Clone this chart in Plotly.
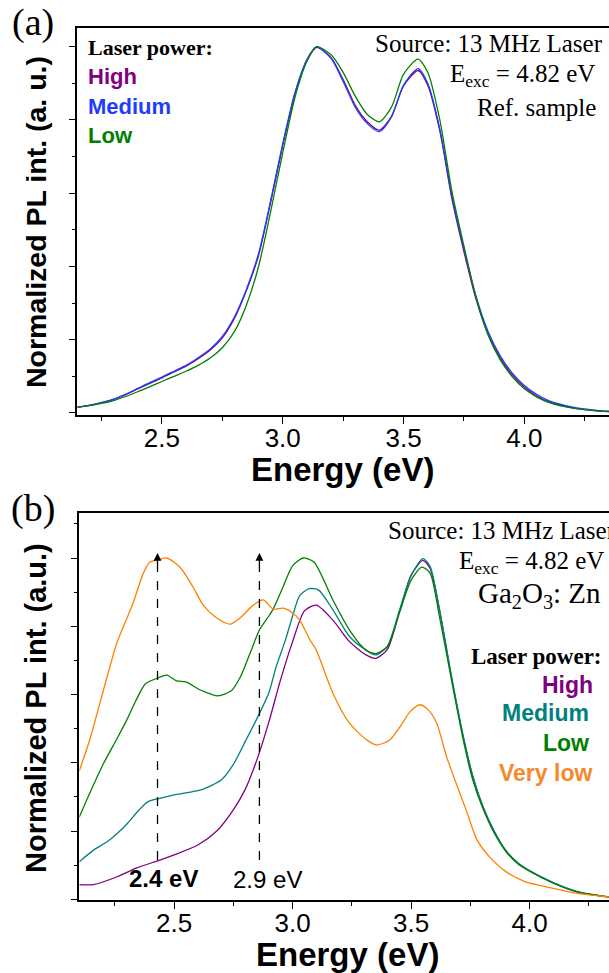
import plotly.graph_objects as go

# ---------------- data: panel (a) reference sample ----------------
energy_a = [2.15, 2.2, 2.25, 2.3, 2.35, 2.4, 2.45, 2.5, 2.55, 2.6, 2.65, 2.7, 2.75, 2.8,
            2.85, 2.9, 2.95, 3.0, 3.05, 3.1, 3.14, 3.2, 3.25, 3.3, 3.35, 3.4, 3.45, 3.5,
            3.56, 3.6, 3.65, 3.7, 3.75, 3.8, 3.85, 3.9, 3.95, 4.0, 4.05, 4.1, 4.2, 4.3, 4.35]
a_high = [0.016, 0.021, 0.028, 0.037, 0.050, 0.066, 0.081, 0.096, 0.112, 0.128, 0.148, 0.172,
          0.205, 0.258, 0.335, 0.43, 0.575, 0.73, 0.87, 0.962, 0.998, 0.97, 0.91, 0.84, 0.795,
          0.772, 0.81, 0.893, 0.935, 0.895, 0.77, 0.585, 0.44, 0.31, 0.215, 0.15, 0.104, 0.07,
          0.047, 0.031, 0.014, 0.006, 0.004]
a_medium = [0.016, 0.021, 0.028, 0.038, 0.051, 0.067, 0.083, 0.098, 0.114, 0.130, 0.151, 0.175,
            0.209, 0.262, 0.338, 0.435, 0.58, 0.735, 0.873, 0.965, 1.0, 0.968, 0.905, 0.835,
            0.79, 0.768, 0.808, 0.895, 0.94, 0.9, 0.775, 0.592, 0.448, 0.318, 0.222, 0.156,
            0.109, 0.075, 0.051, 0.034, 0.016, 0.007, 0.004]
a_low = [0.016, 0.020, 0.026, 0.034, 0.045, 0.058, 0.072, 0.086, 0.100, 0.114, 0.130, 0.150,
         0.178, 0.222, 0.295, 0.40, 0.55, 0.71, 0.86, 0.96, 1.0, 0.978, 0.93, 0.865, 0.815,
         0.795, 0.835, 0.925, 0.966, 0.93, 0.80, 0.605, 0.455, 0.315, 0.212, 0.145, 0.099,
         0.066, 0.044, 0.029, 0.013, 0.006, 0.004]

# ---------------- data: panel (b) Ga2O3:Zn ----------------
energy_b_high = [2.1, 2.16, 2.26, 2.34, 2.44, 2.5, 2.6, 2.68, 2.75, 2.8, 2.85, 2.9, 2.95, 3.0,
                 3.05, 3.1, 3.17, 3.24, 3.31, 3.35, 3.4, 3.45, 3.5, 3.55, 3.58, 3.62, 3.67,
                 3.72, 3.76, 3.8, 3.85, 3.9, 3.95, 4.0, 4.1, 4.2, 4.3, 4.335]
b_high = [0.043, 0.043, 0.066, 0.091, 0.115, 0.13, 0.159, 0.2, 0.262, 0.322, 0.41, 0.52, 0.645,
          0.755, 0.845, 0.862, 0.818, 0.755, 0.716, 0.706, 0.732, 0.84, 0.95, 0.993, 0.97,
          0.848, 0.652, 0.476, 0.36, 0.276, 0.2, 0.142, 0.106, 0.083, 0.048, 0.022, 0.01, 0.007]

energy_b_medium = [2.1, 2.16, 2.22, 2.26, 2.3, 2.35, 2.39, 2.44, 2.5, 2.56, 2.62, 2.7, 2.75, 2.8,
                   2.85, 2.9, 2.93, 2.97, 3.0, 3.03, 3.07, 3.11, 3.17, 3.24, 3.31, 3.35, 3.4,
                   3.45, 3.5, 3.55, 3.58, 3.62, 3.67, 3.72, 3.76, 3.8, 3.85, 3.9, 3.95, 4.0,
                   4.1, 4.2, 4.3, 4.335]
b_medium = [0.11, 0.144, 0.17, 0.193, 0.22, 0.26, 0.286, 0.296, 0.306, 0.313, 0.322, 0.35, 0.395,
            0.462, 0.53, 0.605, 0.68, 0.76, 0.83, 0.89, 0.91, 0.906, 0.848, 0.77, 0.73, 0.716,
            0.742, 0.845, 0.948, 0.998, 0.976, 0.848, 0.655, 0.478, 0.362, 0.278, 0.2, 0.143,
            0.107, 0.084, 0.049, 0.023, 0.01, 0.007]

energy_b_low = [2.1, 2.15, 2.2, 2.26, 2.3, 2.34, 2.38, 2.43, 2.47, 2.51, 2.55, 2.6, 2.64, 2.68,
                2.74, 2.78, 2.82, 2.86, 2.9, 2.92, 2.96, 3.0, 3.045, 3.09, 3.17, 3.24, 3.31,
                3.35, 3.4, 3.45, 3.5, 3.545, 3.58, 3.62, 3.665, 3.72, 3.76, 3.8, 3.85, 3.9,
                3.95, 4.0, 4.1, 4.2, 4.3, 4.335]
b_low = [0.241, 0.32, 0.395, 0.472, 0.525, 0.584, 0.632, 0.648, 0.657, 0.64, 0.637, 0.617, 0.605,
         0.596, 0.61, 0.652, 0.72, 0.789, 0.83, 0.853, 0.916, 0.977, 1.0, 0.988, 0.877, 0.789,
         0.73, 0.72, 0.74, 0.838, 0.935, 0.973, 0.956, 0.827, 0.663, 0.467, 0.35, 0.271, 0.195,
         0.14, 0.104, 0.082, 0.047, 0.022, 0.01, 0.007]

energy_b_verylow = [2.1, 2.146, 2.187, 2.258, 2.293, 2.327, 2.37, 2.398, 2.435, 2.469, 2.525,
                    2.58, 2.623, 2.68, 2.736, 2.778, 2.834, 2.876, 2.918, 2.96, 3.0, 3.03, 3.073,
                    3.1, 3.17, 3.24, 3.313, 3.355, 3.41, 3.453, 3.495, 3.537, 3.572, 3.608,
                    3.65, 3.69, 3.732, 3.778, 3.83, 3.9, 3.98, 4.095, 4.195, 4.335]
b_verylow = [0.376, 0.472, 0.575, 0.75, 0.81, 0.868, 0.955, 0.988, 0.995, 1.0, 0.973, 0.915,
             0.862, 0.824, 0.806, 0.824, 0.862, 0.877, 0.85, 0.853, 0.839, 0.818, 0.76, 0.73,
             0.604, 0.516, 0.467, 0.452, 0.467, 0.505, 0.549, 0.57, 0.555, 0.516, 0.417, 0.34,
             0.262, 0.174, 0.125, 0.081, 0.052, 0.033, 0.018, 0.007]

peak_energies = [2.43, 2.86]
peak_labels = ["<b>2.4 eV</b>", "2.9 eV"]

# ---------------- styling ----------------
W, H = 609, 973
SERIF = "Liberation Serif"
SANS = "Liberation Sans"
C_PURPLE = "#800080"
C_BLUE = "#1f3cff"
C_GREEN = "#008000"
C_TEAL = "#008080"
C_ORANGE = "#ff8000"
C_ORANGE_TXT = "#f5892e"


def pxx(x):
    return x / W


def pxy(y):
    return 1 - y / H


fig = go.Figure()

line_kw = dict(shape="spline", smoothing=0.7, width=1.3)
fig.add_trace(go.Scatter(x=energy_a, y=a_high, mode="lines", line=dict(color=C_PURPLE, **line_kw),
                         xaxis="x", yaxis="y"))
fig.add_trace(go.Scatter(x=energy_a, y=a_medium, mode="lines", line=dict(color=C_BLUE, **line_kw),
                         xaxis="x", yaxis="y"))
fig.add_trace(go.Scatter(x=energy_a, y=a_low, mode="lines", line=dict(color=C_GREEN, **line_kw),
                         xaxis="x", yaxis="y"))

fig.add_trace(go.Scatter(x=energy_b_high, y=b_high, mode="lines",
                         line=dict(color=C_PURPLE, **line_kw), xaxis="x2", yaxis="y2"))
fig.add_trace(go.Scatter(x=energy_b_medium, y=b_medium, mode="lines",
                         line=dict(color=C_TEAL, **line_kw), xaxis="x2", yaxis="y2"))
fig.add_trace(go.Scatter(x=energy_b_low, y=b_low, mode="lines",
                         line=dict(color=C_GREEN, **line_kw), xaxis="x2", yaxis="y2"))
fig.add_trace(go.Scatter(x=energy_b_verylow, y=b_verylow, mode="lines",
                         line=dict(color=C_ORANGE, **line_kw), xaxis="x2", yaxis="y2"))

xaxis_common = dict(
    showline=True, linecolor="black", linewidth=1.5, mirror=True,
    ticks="outside", ticklen=7, tickwidth=1.2, tickcolor="black",
    dtick=0.5, tick0=0, tickformat=".1f", ticklabelstandoff=-8,
    tickfont=dict(family=SANS, size=26, color="black"),
    minor=dict(ticks="outside", ticklen=4, tickwidth=1.2, tickcolor="black", dtick=0.25),
    showgrid=False, zeroline=False,
)
yaxis_common = dict(
    showline=True, linecolor="black", linewidth=1.5,
    ticks="outside", ticklen=7, tickwidth=1.2, tickcolor="black",
    dtick=0.2, tick0=0, showticklabels=False,
    minor=dict(ticks="outside", ticklen=4, tickwidth=1.2, tickcolor="black", dtick=0.1),
    showgrid=False, zeroline=False,
)

fig.update_layout(
    width=W, height=H,
    margin=dict(l=0, r=0, t=0, b=0),
    paper_bgcolor="white", plot_bgcolor="white",
    showlegend=False,
    xaxis=dict(domain=[77.3 / W, 1], range=[2.15, 4.35], anchor="y", **xaxis_common),
    yaxis=dict(domain=[pxy(415), pxy(28)], range=[-0.0055, 1.051], anchor="x", **yaxis_common),
    xaxis2=dict(domain=[79.3 / W, 1], range=[2.1, 4.335], anchor="y2", **xaxis_common),
    yaxis2=dict(domain=[pxy(900.3), pxy(513.3)], range=[-0.003, 1.131], anchor="x2", **yaxis_common),
)

# dashed guide lines with arrowheads in panel (b)
for e in peak_energies:
    fig.add_shape(type="line", xref="x2", yref="y2", x0=e, x1=e, y0=0.115, y1=1.0,
                  line=dict(color="black", width=1.3, dash="dash"))
    fig.add_annotation(xref="x2", yref="y2", x=e, y=1.015, text="", showarrow=True,
                       ax=0, ay=12, arrowhead=2, arrowsize=1.2, arrowwidth=1.3,
                       arrowcolor="black")

ann = []


def txt(text, x, y, size, family, color="black", xanchor="center", yanchor="middle", angle=0):
    ann.append(dict(text=text, x=pxx(x), y=pxy(y), xref="paper", yref="paper",
                    showarrow=False, xanchor=xanchor, yanchor=yanchor, textangle=angle,
                    font=dict(family=family, size=size, color=color)))


# panel labels
txt("(a)", 33, 23, 38, SERIF)
txt("(b)", 33, 508, 38, SERIF)

# axis titles
txt("<b>Normalized PL int. (a. u.)</b>", 36, 222, 28.5, SANS, angle=-90)
txt("<b>Normalized PL int. (a.u.)</b>", 36, 708, 29, SANS, angle=-90)
txt("<b>Energy (eV)</b>", 342, 470, 33, SANS)
txt("<b>Energy (eV)</b>", 347, 954, 33, SANS)

# panel (a) legend text
txt("<b>Laser power:</b>", 86, 48, 22, SERIF, xanchor="left")
txt("<b>High</b>", 86, 76, 22, SANS, C_PURPLE, xanchor="left")
txt("<b>Medium</b>", 86, 106, 22, SANS, C_BLUE, xanchor="left")
txt("<b>Low</b>", 86, 135, 22, SANS, C_GREEN, xanchor="left")

# panel (a) info text
txt("Source: 13 MHz Laser", 605, 43, 25, SERIF, xanchor="right")
txt("E<sub>exc</sub> = 4.82 eV", 597, 75, 25, SERIF, xanchor="right")
txt("Ref. sample", 598, 108, 25, SERIF, xanchor="right")

# panel (b) info text
txt("Source: 13 MHz Laser", 386, 530, 25, SERIF, xanchor="left")
txt("E<sub>exc</sub> = 4.82 eV", 606, 562, 25, SERIF, xanchor="right")
txt("Ga<sub>2</sub>O<sub>3</sub>: Zn", 603, 595, 29, SERIF, xanchor="right")

# panel (b) legend text
txt("<b>Laser power:</b>", 604, 656, 23, SERIF, xanchor="right")
txt("<b>High</b>", 595, 685, 23, SANS, C_PURPLE, xanchor="right")
txt("<b>Medium</b>", 591, 713, 23, SANS, C_TEAL, xanchor="right")
txt("<b>Low</b>", 591, 743, 23, SANS, C_GREEN, xanchor="right")
txt("<b>Very low</b>", 594, 773, 23, SANS, C_ORANGE_TXT, xanchor="right")

# peak labels
txt(peak_labels[0], 163, 878, 24, SANS)
txt(peak_labels[1], 267, 879, 24, SANS)

for a in ann:
    fig.add_annotation(**a)

fig.write_html("out.html", config={"displayModeBar": False},
               post_script="document.body.style.margin='0';")
